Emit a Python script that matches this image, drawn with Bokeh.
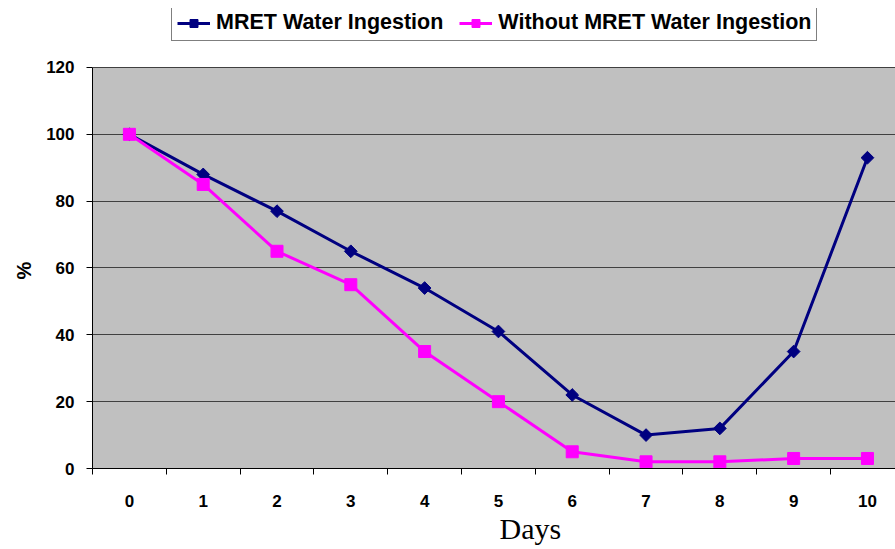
import math
from bokeh.plotting import figure
from bokeh.models import (Range1d, FixedTicker, Legend, LegendItem, Title, BoxAnnotation)
from bokeh.embed import file_html
from bokeh.resources import INLINE

days = list(range(11))
day_labels = [str(d) for d in days]
mret = [100, 88, 77, 65, 54, 41, 22, 10, 12, 35, 93]
without = [100, 85, 65, 55, 35, 20, 5, 2, 2, 3, 3]
y_ticks = [0, 20, 40, 60, 80, 100, 120]
series_names = ["MRET Water Ingestion", "Without MRET Water Ingestion"]

NAVY = "#000080"
MAGENTA = "#FF00FF"
FONT = "Liberation Sans"

Y_MAX = y_ticks[-1]
# frame extends above the plot area so the legend can sit inside it
p = figure(width=895, height=549, output_backend="svg", toolbar_location=None,
           x_range=Range1d(-0.5, 10.38), y_range=Range1d(0, 137.65),
           min_border_left=92, min_border_right=0, min_border_top=8,
           min_border_bottom=81)
p.background_fill_color = "white"
p.border_fill_color = "white"
p.outline_line_color = None

# gray plot area (0..120)
area = BoxAnnotation(bottom=0, top=Y_MAX, fill_color="#C0C0C0", fill_alpha=1,
                     line_color=None, level="image")
p.add_layout(area)

# lines + markers
l1 = p.line(days, mret, line_color=NAVY, line_width=3)
s1 = p.scatter(days, mret, marker="square", size=9, angle=math.pi / 4,
               fill_color=NAVY, line_color=NAVY)
l2 = p.line(days, without, line_color=MAGENTA, line_width=3)
s2 = p.scatter(days, without, marker="square", size=12,
               fill_color=MAGENTA, line_color=MAGENTA)

# axes
xa = p.xaxis[0]
xa.ticker = FixedTicker(ticks=days, minor_ticks=[d - 0.5 for d in range(12)])
xa.major_label_overrides = {d: lab for d, lab in zip(days, day_labels)}
xa.major_tick_line_color = None
xa.major_tick_out = 0
xa.major_tick_in = 0
xa.minor_tick_out = 6
xa.minor_tick_in = 0
xa.minor_tick_line_color = "black"
xa.axis_line_color = "black"
xa.major_label_standoff = 20
xa.major_label_text_font = FONT
xa.major_label_text_font_style = "bold"
xa.major_label_text_font_size = "17px"
xa.major_label_text_color = "black"

ya = p.yaxis[0]
ya.ticker = FixedTicker(ticks=y_ticks, minor_ticks=[])
ya.bounds = (0, Y_MAX)
ya.major_tick_out = 6
ya.major_tick_in = 0
ya.major_tick_line_color = "black"
ya.axis_line_color = "black"
ya.major_label_standoff = 12
ya.major_label_text_font = FONT
ya.major_label_text_font_style = "bold"
ya.major_label_text_font_size = "17px"
ya.major_label_text_color = "black"

p.xgrid.grid_line_color = None
p.ygrid.grid_line_color = "#404040"
p.ygrid.grid_line_width = 1

# y axis title "%" (centred on the gray plot area)
pct_title = Title(text="%", align="left", offset=189, standoff=18,
                  text_font=FONT, text_font_size="20px", text_font_style="bold",
                  text_color="black")
p.add_layout(pct_title, "left")

# x axis title
days_title = Title(text="Days", align="left", offset=407, standoff=0,
                   text_font="Liberation Serif", text_font_size="30px",
                   text_font_style="normal", text_color="black")
p.add_layout(days_title, "below")

legend = Legend(items=[LegendItem(label=series_names[0], renderers=[l1, s1]),
                       LegendItem(label=series_names[1], renderers=[l2, s2])],
                location=(79, 427), orientation="horizontal",
                border_line_color="black", border_line_width=1,
                background_fill_color="white", background_fill_alpha=1,
                label_text_font=FONT, label_text_font_style="bold",
                label_text_font_size="21.5px", label_text_color="black",
                glyph_width=33, glyph_height=20, label_height=20,
                label_standoff=6, spacing=16, padding=5, margin=0)
p.add_layout(legend, "center")

open("out.html", "w").write(file_html(p, INLINE))
